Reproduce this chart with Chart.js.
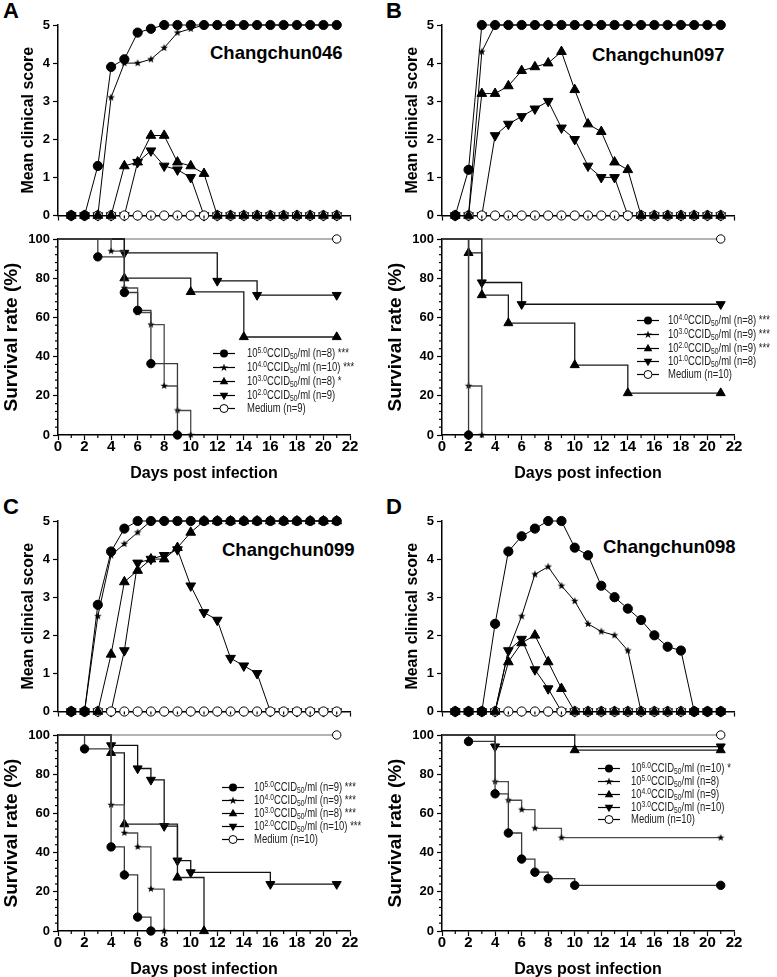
<!DOCTYPE html>
<html lang="en">
<head>
<meta charset="utf-8">
<title>Clinical score and survival</title>
<script src="https://cdn.jsdelivr.net/npm/chart.js@4.4.1/dist/chart.umd.min.js"></script>
<style>
  html, body { margin: 0; padding: 0; background: #fff; }
  body { width: 777px; height: 977px; position: relative; overflow: hidden; font-family: "Liberation Sans", Arial, sans-serif; color: #000; }
  canvas { position: absolute; }
  .letra { position: absolute; font-weight: bold; font-size: 22px; line-height: 22px; }
  .cepa { position: absolute; font-weight: bold; font-size: 18.5px; line-height: 18.5px; white-space: nowrap; }
  .legenda-item { position: absolute; height: 12px; white-space: nowrap; font-family: "Liberation Sans Narrow", "Arial Narrow", "Liberation Sans", sans-serif; font-size: 12px; line-height: 12px; color: #222; transform: scaleX(0.79); transform-origin: 0 50%; }
  .legenda-item sup, .legenda-item sub { font-size: 8.5px; line-height: 0; }
  .legenda-item sup { vertical-align: 4px; }
  .legenda-item sub { vertical-align: -2px; }
  svg.simbolo { position: absolute; }
</style>
</head>
<body>

<div class="letra" style="left:3px; top:0px;">A</div>
<div class="letra" style="left:386px; top:0px;">B</div>
<div class="letra" style="left:3px; top:496px;">C</div>
<div class="letra" style="left:386px; top:496px;">D</div>

<div class="cepa" style="left:210px; top:44px;">Changchun046</div>
<div class="cepa" style="left:592px; top:46px;">Changchun097</div>
<div class="cepa" style="left:222px; top:541px;">Changchun099</div>
<div class="cepa" style="left:603px; top:538px;">Changchun098</div>

<script>
// dias com escore clínico
const diasEscore = [1, 2, 3, 4, 5, 6, 7, 8, 9, 10, 11, 12, 13, 14, 15, 16, 17, 18, 19, 20, 21];

// A - Changchun046
const escoreA50 = [0, 0, 1.3, 3.9, 4.1, 4.8, 4.9, 5, 5, 5, 5, 5, 5, 5, 5, 5, 5, 5, 5, 5, 5];
const escoreA40 = [0, 0, 0, 3.1, 4.0, 4.0, 4.1, 4.4, 4.8, 4.9, 5, 5, 5, 5, 5, 5, 5, 5, 5, 5, 5];
const escoreA30 = [0, 0, 0, 0, 1.3, 1.4, 2.1, 2.1, 1.4, 1.3, 1.1, 0, 0, 0, 0, 0, 0, 0, 0, 0, 0];
const escoreA20 = [0, 0, 0, 0, 0, 1.4, 1.7, 1.3, 1.2, 1.0, 0, 0, 0, 0, 0, 0, 0, 0, 0, 0, 0];
const escoreAMeio = [0, 0, 0, 0, 0, 0, 0, 0, 0, 0, 0, 0, 0, 0, 0, 0, 0, 0, 0, 0, 0];

const diasA50 = [0, 3, 5, 6, 7, 9];
const sobrevA50 = [100, 90.9, 72.7, 63.6, 36.4, 0];
const diasA40 = [0, 4, 5, 6, 7, 8, 9, 10];
const sobrevA40 = [100, 93.8, 75, 62.5, 56.3, 25, 12.5, 0];
const diasA30 = [0, 5, 10, 14, 21];
const sobrevA30 = [100, 80, 73, 50, 50];
const diasA20 = [0, 5, 12, 15, 21];
const sobrevA20 = [100, 92.9, 78.6, 71.4, 71.4];
const diasAMeio = [0, 21];
const sobrevAMeio = [100, 100];

const dosesA = ["5.0", "4.0", "3.0", "2.0"];
const nA = [8, 10, 8, 9];
const signifA = ["***", "***", "*", ""];
const nMeioA = 9;

// B - Changchun097
const escoreB40 = [0, 1.2, 5, 5, 5, 5, 5, 5, 5, 5, 5, 5, 5, 5, 5, 5, 5, 5, 5, 5, 5];
const escoreB30 = [0, 0, 4.3, 5, 5, 5, 5, 5, 5, 5, 5, 5, 5, 5, 5, 5, 5, 5, 5, 5, 5];
const escoreB20 = [0, 0, 3.2, 3.2, 3.4, 3.8, 3.9, 4.0, 4.3, 3.3, 2.4, 2.2, 1.4, 1.2, 0, 0, 0, 0, 0, 0, 0];
const escoreB10 = [0, 0, 0, 2.1, 2.4, 2.6, 2.8, 3.0, 2.3, 2.0, 1.3, 1.0, 1.0, 0, 0, 0, 0, 0, 0, 0, 0];
const escoreBMeio = [0, 0, 0, 0, 0, 0, 0, 0, 0, 0, 0, 0, 0, 0, 0, 0, 0, 0, 0, 0, 0];

const diasB40 = [0, 2];
const sobrevB40 = [100, 0];
const diasB30 = [0, 2, 3];
const sobrevB30 = [100, 25, 0];
const diasB20 = [0, 2, 3, 5, 10, 14, 21];
const sobrevB20 = [100, 92.9, 71.4, 57.1, 35.7, 21.4, 21.4];
const diasB10 = [0, 3, 6, 21];
const sobrevB10 = [100, 77.8, 66.7, 66.7];
const diasBMeio = [0, 21];
const sobrevBMeio = [100, 100];

const dosesB = ["4.0", "3.0", "2.0", "1.0"];
const nB = [8, 9, 9, 8];
const signifB = ["***", "***", "***", ""];
const nMeioB = 10;

// C - Changchun099
const escoreC50 = [0, 0, 2.8, 4.2, 4.8, 5, 5, 5, 5, 5, 5, 5, 5, 5, 5, 5, 5, 5, 5, 5, 5];
const escoreC40 = [0, 0, 2.5, 4.1, 4.4, 4.7, 5, 5, 5, 5, 5, 5, 5, 5, 5, 5, 5, 5, 5, 5, 5];
const escoreC30 = [0, 0, 0, 1.5, 3.4, 3.7, 4.0, 4.0, 4.3, 4.7, 5, 5, 5, 5, 5, 5, 5, 5, 5, 5, 5];
const escoreC20 = [0, 0, 0, 0, 1.6, 3.9, 4.0, 4.1, 4.25, 3.3, 2.6, 2.4, 1.4, 1.2, 1.0, 0, 0, 0, 0, 0, 0];
const escoreCMeio = [0, 0, 0, 0, 0, 0, 0, 0, 0, 0, 0, 0, 0, 0, 0, 0, 0, 0, 0, 0, 0];

const diasC50 = [0, 2, 4, 5, 6, 7];
const sobrevC50 = [100, 92.9, 42.9, 28.6, 7.1, 0];
const diasC40 = [0, 4, 5, 6, 7, 8];
const sobrevC40 = [100, 64.3, 50, 42.9, 21.4, 0];
const diasC30 = [0, 4, 5, 9, 11];
const sobrevC30 = [100, 90.9, 54.5, 27.3, 0];
const diasC20 = [0, 4, 6, 7, 8, 9, 10, 16, 21];
const sobrevC20 = [100, 94.7, 82.9, 77.1, 53.5, 35.9, 29.9, 23.9, 23.9];
const diasCMeio = [0, 21];
const sobrevCMeio = [100, 100];

const dosesC = ["5.0", "4.0", "3.0", "2.0"];
const nC = [9, 9, 8, 10];
const signifC = ["***", "***", "***", "***"];
const nMeioC = 10;

// D - Changchun098
const escoreD60 = [0, 0, 0, 2.3, 4.2, 4.6, 4.8, 5, 5, 4.3, 4.1, 3.3, 3.0, 2.7, 2.4, 2.0, 1.7, 1.6, 0, 0, 0];
const escoreD50 = [0, 0, 0, 0, 1.6, 2.5, 3.6, 3.8, 3.3, 2.9, 2.3, 2.1, 2.0, 1.6, 0, 0, 0, 0, 0, 0, 0];
const escoreD40 = [0, 0, 0, 0, 1.3, 1.8, 2.0, 1.3, 0.6, 0, 0, 0, 0, 0, 0, 0, 0, 0, 0, 0, 0];
const escoreD30 = [0, 0, 0, 0, 1.6, 1.9, 1.1, 0.6, 0, 0, 0, 0, 0, 0, 0, 0, 0, 0, 0, 0, 0];
const escoreDMeio = [0, 0, 0, 0, 0, 0, 0, 0, 0, 0, 0, 0, 0, 0, 0, 0, 0, 0, 0, 0, 0];

const diasD60 = [0, 2, 4, 5, 6, 7, 8, 10, 21];
const sobrevD60 = [100, 96.7, 70, 50, 36.7, 30, 26.7, 23.3, 23.3];
const diasD50 = [0, 4, 5, 6, 7, 9, 21];
const sobrevD50 = [100, 76.2, 66.7, 61.9, 52.4, 47.6, 47.6];
const diasD40 = [0, 10, 21];
const sobrevD40 = [100, 92.3, 92.3];
const diasD30 = [0, 4, 21];
const sobrevD30 = [100, 94.1, 94.1];
const diasDMeio = [0, 21];
const sobrevDMeio = [100, 100];

const dosesD = ["6.0", "5.0", "4.0", "3.0"];
const nD = [10, 8, 9, 10];
const signifD = ["*", "", "", ""];
const nMeioD = 10;

const ticksDias = [0, 22, 2];
const ticksEscore = [0, 5, 1];
const ticksSobrev = [0, 100, 20];

function criarEstrela(raio) {
  const tela = document.createElement("canvas");
  const lado = Math.ceil(raio * 2 + 2);
  tela.width = lado;
  tela.height = lado;
  const ctx = tela.getContext("2d");
  ctx.fillStyle = "#000";
  ctx.beginPath();
  for (let i = 0; i < 10; i++) {
    const r = i % 2 === 0 ? raio : raio * 0.42;
    const a = -Math.PI / 2 + i * Math.PI / 5;
    ctx.lineTo(lado / 2 + r * Math.cos(a), lado / 2 + r * Math.sin(a));
  }
  ctx.closePath();
  ctx.fill();
  return tela;
}

const estrelaEscore = criarEstrela(4.0);
const estrelaSobrev = criarEstrela(3.8);

// forma de cada grupo: circulo, estrela, triangulo, triangulo invertido, circulo aberto
function estiloSerie(indice, grafico) {
  const raioCirc = grafico === "escore" ? 4.6 : 4.2;
  const raioTri = grafico === "escore" ? 5.6 : 5.2;
  const estilos = [
    { pointStyle: "circle", pointRadius: raioCirc, pointBackgroundColor: "#000", pointRotation: 0 },
    { pointStyle: grafico === "escore" ? estrelaEscore : estrelaSobrev, pointRadius: 4, pointBackgroundColor: "#000", pointRotation: 0 },
    { pointStyle: "triangle", pointRadius: raioTri, pointBackgroundColor: "#000", pointRotation: 0 },
    { pointStyle: "triangle", pointRadius: raioTri, pointBackgroundColor: "#000", pointRotation: 180 },
    { pointStyle: "circle", pointRadius: raioCirc, pointBackgroundColor: "#fff", pointRotation: 0 }
  ];
  return estilos[indice];
}

const ordemDesenho = [0, 1, 2, 4, 3];
const coresSobrev = ["#3a3a3a", "#4a4a4a", "#1a1a1a", "#111", "#9a9a9a"];

const pluginTiquesMenores = {
  id: "tiquesMenores",
  afterDraw(grafico, args, opcoes) {
    const ctx = grafico.ctx;
    const { x, y } = grafico.scales;
    ctx.save();
    ctx.strokeStyle = "#000";
    ctx.lineWidth = 1.2;

    if (opcoes.x) {
      const [passo, maior] = opcoes.x;
      for (let v = x.min; v <= x.max; v += passo) {
        if (v % maior === 0) continue;
        const px = x.getPixelForValue(v);
        ctx.beginPath();
        ctx.moveTo(px, x.top);
        ctx.lineTo(px, x.top + 3);
        ctx.stroke();
      }
    }

    if (opcoes.y) {
      const [passo, maior] = opcoes.y;
      for (let v = y.min; v <= y.max; v += passo) {
        if (v % maior === 0) continue;
        const py = y.getPixelForValue(v);
        ctx.beginPath();
        ctx.moveTo(y.right - 3, py);
        ctx.lineTo(y.right, py);
        ctx.stroke();
      }
    }

    ctx.restore();
  }
};

const familia = '"Liberation Sans", Arial, sans-serif';
const fonteTicksY = { family: familia, weight: "bold", size: 13, lineHeight: 1 };
const fonteTicksX = { family: familia, weight: "bold", size: 15, lineHeight: 1 };
const fonteTitulo = { family: familia, weight: "bold", size: 16 };
const fonteTituloSobrev = { family: familia, weight: "bold", size: 19 };

function eixoY(limites, titulo, fonte, recuo) {
  return {
    min: limites[0],
    max: limites[1],
    afterFit: eixo => { eixo.width = 58; },
    border: { color: "#000", width: 1.5 },
    grid: { drawOnChartArea: false, drawTicks: true, tickLength: 5, tickColor: "#000", tickWidth: 1.2 },
    ticks: { stepSize: limites[2], color: "#000", font: fonteTicksY, padding: 3 },
    title: { display: true, text: titulo, color: "#000", font: fonte, padding: { top: recuo, bottom: 0 } }
  };
}

function eixoX(comRotulos) {
  return {
    type: "linear",
    min: ticksDias[0],
    max: ticksDias[1],
    afterFit: eixo => { eixo.height = comRotulos ? 48 : 5; },
    border: { color: "#000", width: 1.5 },
    grid: { drawOnChartArea: false, drawTicks: true, tickLength: 5, tickColor: "#000", tickWidth: 1.2 },
    ticks: {
      stepSize: ticksDias[2],
      color: "#000",
      font: fonteTicksX,
      padding: -1,
      maxRotation: 0,
      autoSkip: false,
      callback: valor => comRotulos ? valor : ""
    },
    title: { display: comRotulos, text: "Days post infection", color: "#000", font: fonteTitulo, padding: 0 }
  };
}

function criarCanvas(esquerda, topo, largura, altura) {
  const canvas = document.createElement("canvas");
  canvas.width = largura;
  canvas.height = altura;
  canvas.style.left = esquerda + "px";
  canvas.style.top = topo + "px";
  canvas.style.width = largura + "px";
  canvas.style.height = altura + "px";
  document.body.appendChild(canvas);
  return canvas;
}

function graficoEscore(painel) {
  const canvas = criarCanvas(painel.ox, painel.oy + 10, 362, 215);

  const datasets = painel.escores.map((serie, i) => ({
    data: diasEscore.map((dia, j) => ({ x: dia, y: serie[j] })),
    borderColor: "#000",
    borderWidth: 1,
    pointBorderColor: "#000",
    pointBorderWidth: 1,
    clip: false,
    order: ordemDesenho[i],
    ...estiloSerie(i, "escore")
  }));

  return new Chart(canvas, {
    type: "line",
    data: { datasets },
    plugins: [pluginTiquesMenores],
    options: {
      responsive: false,
      animation: false,
      events: [],
      devicePixelRatio: 1,
      layout: { padding: { left: 0, top: 15, right: 12, bottom: 0 } },
      scales: {
        x: eixoX(false),
        y: eixoY(ticksEscore, "Mean clinical score", fonteTitulo, 19)
      },
      plugins: {
        legend: { display: false },
        tooltip: { enabled: false },
        tiquesMenores: { x: [1, 2] }
      }
    }
  });
}

function graficoSobrevivencia(painel) {
  const canvas = criarCanvas(painel.ox, painel.oy + 229, 362, 256);

  const datasets = painel.sobrevivencia.map((curva, i) => ({
    data: curva.dias.map((dia, j) => ({ x: dia, y: curva.valores[j] })),
    stepped: "before",
    borderColor: coresSobrev[i],
    borderWidth: 1.3,
    pointBorderColor: "#000",
    pointBorderWidth: 1,
    clip: false,
    order: ordemDesenho[i] + (i === 4 ? 5 : 0),
    ...estiloSerie(i, "sobrev"),
    pointRadius: curva.dias.map((dia, j) => j === 0 ? 0 : estiloSerie(i, "sobrev").pointRadius)
  }));

  return new Chart(canvas, {
    type: "line",
    data: { datasets },
    plugins: [pluginTiquesMenores],
    options: {
      responsive: false,
      animation: false,
      events: [],
      devicePixelRatio: 1,
      layout: { padding: { left: 0, top: 10, right: 12, bottom: 2 } },
      scales: {
        x: eixoX(true),
        y: eixoY(ticksSobrev, "Survival rate (%)", fonteTituloSobrev, 0)
      },
      plugins: {
        legend: { display: false },
        tooltip: { enabled: false },
        tiquesMenores: { x: [1, 2], y: [4, 20] }
      }
    }
  });
}

function simboloSvg(indice) {
  const formas = [
    '<circle cx="11" cy="5.5" r="4" fill="#000"/>',
    '<polygon points="11,1.5 12,4.4 15,4.4 12.6,6.2 13.5,9.1 11,7.3 8.5,9.1 9.4,6.2 7,4.4 10,4.4" fill="#000"/>',
    '<polygon points="11,0.8 15.3,8.2 6.7,8.2" fill="#000"/>',
    '<polygon points="11,10.2 15.3,2.8 6.7,2.8" fill="#000"/>',
    '<circle cx="11" cy="5.5" r="4" fill="#fff" stroke="#000" stroke-width="1"/>'
  ];
  return '<line x1="0" y1="5.5" x2="22" y2="5.5" stroke="#000" stroke-width="1.2"/>' + formas[indice];
}

function criarLegenda(painel) {
  const textos = painel.doses.map((dose, i) =>
    `10<sup>${dose}</sup>CCID<sub>50</sub>/ml (n=${painel.n[i]}) ${painel.signif[i]}`
  );
  textos.push(`Medium (n=${painel.nMeio})`);

  textos.forEach((texto, i) => {
    const centro = painel.legenda.linhas[i];

    const svg = document.createElementNS("http://www.w3.org/2000/svg", "svg");
    svg.setAttribute("class", "simbolo");
    svg.setAttribute("width", "22");
    svg.setAttribute("height", "11");
    svg.style.left = painel.legenda.simbolo + "px";
    svg.style.top = (centro - 5.5) + "px";
    svg.innerHTML = simboloSvg(i);
    document.body.appendChild(svg);

    const item = document.createElement("div");
    item.className = "legenda-item";
    item.style.left = painel.legenda.texto + "px";
    item.style.top = (centro - 6) + "px";
    item.innerHTML = texto;
    document.body.appendChild(item);
  });
}

const paineis = [
  {
    ox: 0, oy: 0,
    escores: [escoreA50, escoreA40, escoreA30, escoreA20, escoreAMeio],
    sobrevivencia: [
      { dias: diasA50, valores: sobrevA50 },
      { dias: diasA40, valores: sobrevA40 },
      { dias: diasA30, valores: sobrevA30 },
      { dias: diasA20, valores: sobrevA20 },
      { dias: diasAMeio, valores: sobrevAMeio }
    ],
    doses: dosesA, n: nA, signif: signifA, nMeio: nMeioA,
    legenda: { simbolo: 213, texto: 247, linhas: [353, 367, 381, 395, 408] }
  },
  {
    ox: 384, oy: 0,
    escores: [escoreB40, escoreB30, escoreB20, escoreB10, escoreBMeio],
    sobrevivencia: [
      { dias: diasB40, valores: sobrevB40 },
      { dias: diasB30, valores: sobrevB30 },
      { dias: diasB20, valores: sobrevB20 },
      { dias: diasB10, valores: sobrevB10 },
      { dias: diasBMeio, valores: sobrevBMeio }
    ],
    doses: dosesB, n: nB, signif: signifB, nMeio: nMeioB,
    legenda: { simbolo: 637, texto: 668, linhas: [320, 334, 348, 361, 374] }
  },
  {
    ox: 0, oy: 496,
    escores: [escoreC50, escoreC40, escoreC30, escoreC20, escoreCMeio],
    sobrevivencia: [
      { dias: diasC50, valores: sobrevC50 },
      { dias: diasC40, valores: sobrevC40 },
      { dias: diasC30, valores: sobrevC30 },
      { dias: diasC20, valores: sobrevC20 },
      { dias: diasCMeio, valores: sobrevCMeio }
    ],
    doses: dosesC, n: nC, signif: signifC, nMeio: nMeioC,
    legenda: { simbolo: 222, texto: 254, linhas: [787, 800, 813, 826, 839] }
  },
  {
    ox: 384, oy: 496,
    escores: [escoreD60, escoreD50, escoreD40, escoreD30, escoreDMeio],
    sobrevivencia: [
      { dias: diasD60, valores: sobrevD60 },
      { dias: diasD50, valores: sobrevD50 },
      { dias: diasD40, valores: sobrevD40 },
      { dias: diasD30, valores: sobrevD30 },
      { dias: diasDMeio, valores: sobrevDMeio }
    ],
    doses: dosesD, n: nD, signif: signifD, nMeio: nMeioD,
    legenda: { simbolo: 598, texto: 631, linhas: [768, 781, 794, 807, 819] }
  }
];

paineis.forEach(painel => {
  graficoEscore(painel);
  graficoSobrevivencia(painel);
  criarLegenda(painel);
});
</script>
</body>
</html>
